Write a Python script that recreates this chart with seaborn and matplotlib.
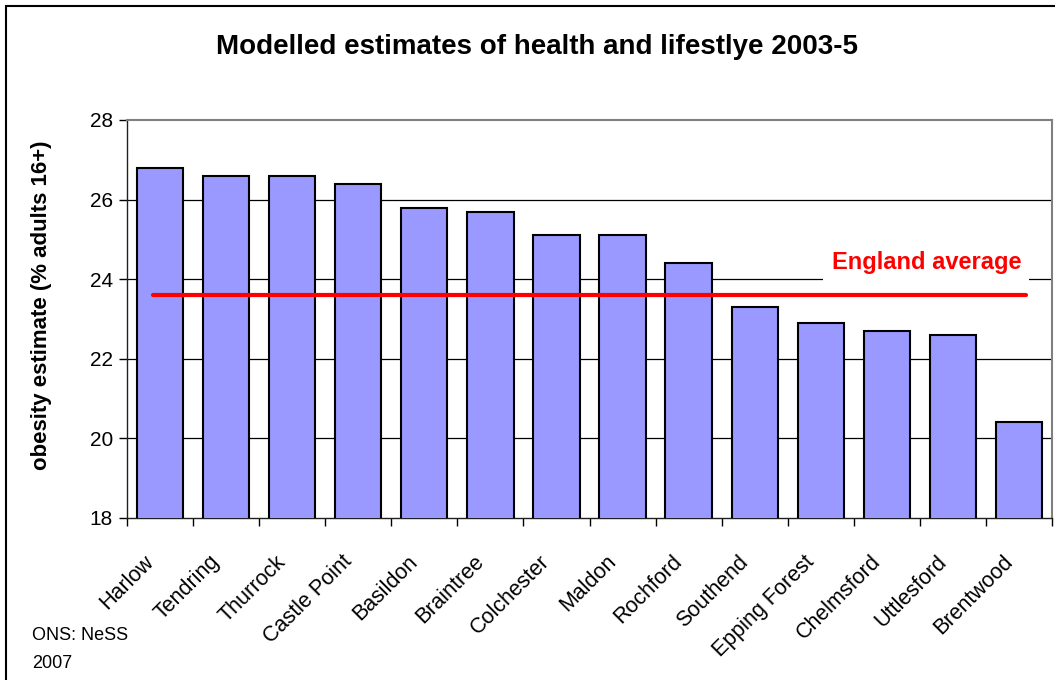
import matplotlib
matplotlib.use("Agg")
import matplotlib.pyplot as plt
import matplotlib.transforms as mtransforms
from matplotlib.patches import Rectangle
import seaborn as sns
import pandas as pd

districts = ["Harlow", "Tendring", "Thurrock", "Castle Point", "Basildon",
             "Braintree", "Colchester", "Maldon", "Rochford", "Southend",
             "Epping Forest", "Chelmsford", "Uttlesford", "Brentwood"]
obesity = [26.8, 26.6, 26.6, 26.4, 25.8, 25.7, 25.1, 25.1, 24.4, 23.3,
           22.9, 22.7, 22.6, 20.4]
england_average = 23.6
y_ticks = [18, 20, 22, 24, 26, 28]

sns.set_theme(style="white")
plt.rcParams["font.family"] = ["Liberation Sans", "DejaVu Sans"]
plt.rcParams["text.color"] = "black"
plt.rcParams["xtick.color"] = "black"
plt.rcParams["ytick.color"] = "black"
plt.rcParams["axes.labelcolor"] = "black"

df = pd.DataFrame({"district": districts, "obesity": obesity})

fig = plt.figure(figsize=(10.55, 6.8), dpi=100)
ax = fig.add_axes([127 / 1055, 1 - 518 / 680, (1052 - 127) / 1055, (518 - 120) / 680])

sns.barplot(data=df, x="district", y="obesity", ax=ax, color="#9999FF",
            saturation=1, width=0.7, edgecolor="black", linewidth=1.5, zorder=3)

ax.set_ylim(18, 28)
ax.set_xlim(-0.5, len(districts) - 0.5)
ax.set_yticks(y_ticks)
ax.set_yticklabels([str(t) for t in y_ticks], fontsize=15)
for t in y_ticks[1:-1]:
    ax.axhline(t, color="black", lw=0.9, zorder=1)

# ticks between categories, labels centred under each bar
ax.set_xticks(range(len(districts)))
ax.set_xticklabels(districts, rotation=45, ha="right", rotation_mode="anchor", fontsize=15.5)
ax.set_xticks([i - 0.5 for i in range(len(districts) + 1)], minor=True)
ax.tick_params(axis="x", which="major", length=0, pad=24)
ax.tick_params(axis="x", which="minor", length=6, width=1, color="black", bottom=True)
ax.tick_params(axis="y", length=6, width=1, color="black", left=True, pad=4)
shift = mtransforms.ScaledTranslation(-17 / 100, 0, fig.dpi_scale_trans)
for lbl in ax.get_xticklabels():
    lbl.set_transform(lbl.get_transform() + shift)
ax.set_xlabel("")
ax.set_ylabel("obesity estimate (% adults 16+)", fontsize=16, fontweight="bold")
ax.yaxis.set_label_coords(-(127 - 52) / 925, 0.535)

for side in ("left", "bottom"):
    ax.spines[side].set_color("#202020")
    ax.spines[side].set_linewidth(1.0)
for side in ("top", "right"):
    ax.spines[side].set_color("#808080")
    ax.spines[side].set_linewidth(1.5)

# England average reference line
ax.plot([-0.1, 13.1], [england_average, england_average], color="#FF0000", lw=3, zorder=4)
ax.text(11.6, 24.42, "England average", color="#FF0000", fontsize=17, fontweight="bold",
        ha="center", va="center", zorder=5,
        bbox=dict(facecolor="white", edgecolor="none", pad=6))

fig.text(0.509, 0.931, "Modelled estimates of health and lifestlye 2003-5",
         ha="center", va="center", fontsize=20, fontweight="bold")
fig.text(32 / 1055, 1 - 636 / 680, "ONS: NeSS", ha="left", va="center", fontsize=13)
fig.text(32 / 1055, 1 - 664 / 680, "2007", ha="left", va="center", fontsize=13)

# outer chart frame
fig.patches.append(Rectangle((6 / 1055, -0.1), 1.2, 1 - 6 / 680 + 0.1, transform=fig.transFigure,
                             fill=False, edgecolor="black", lw=1.5))

fig.savefig("out.png", dpi=100)
